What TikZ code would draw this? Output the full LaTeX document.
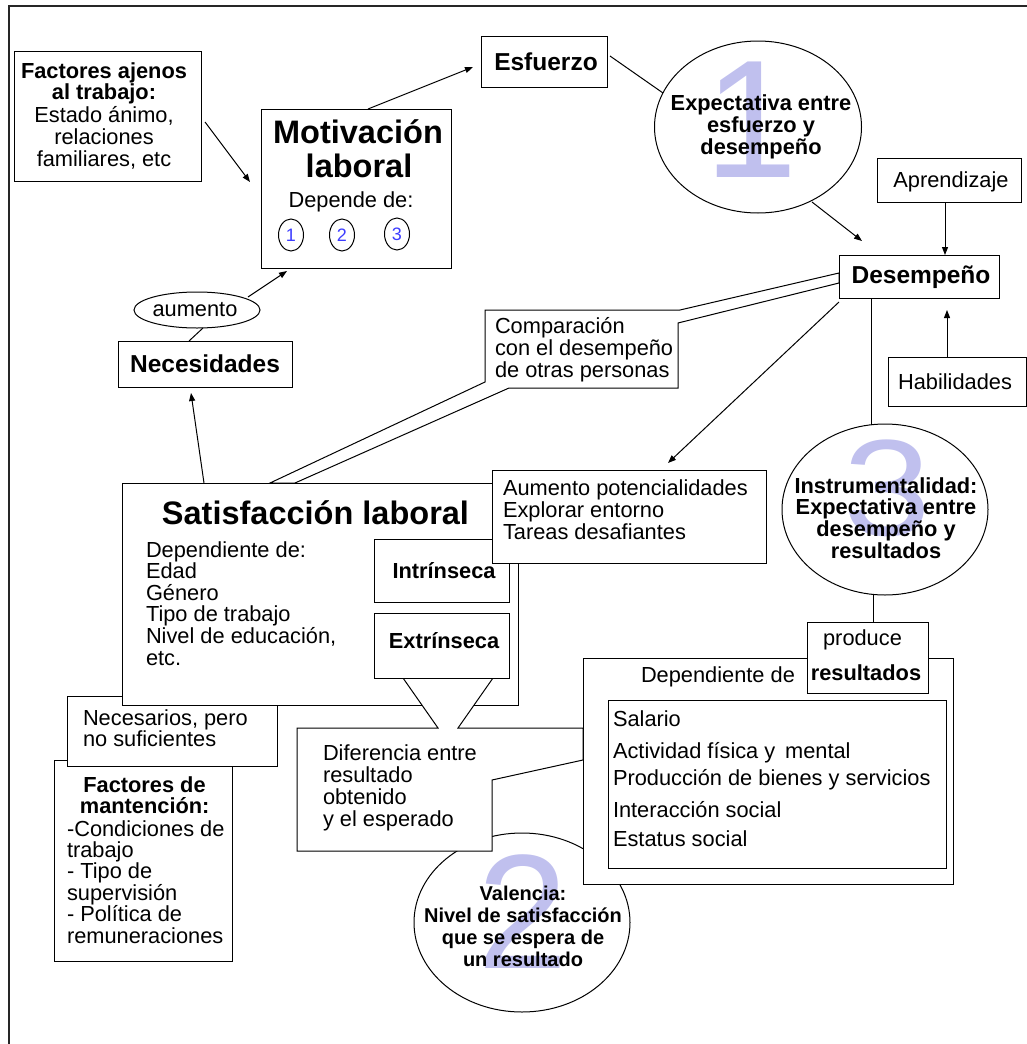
\documentclass[tikz,border=0pt]{standalone}
\usepackage{fontspec}
\setmainfont{Liberation Sans}
\usetikzlibrary{arrows.meta,shapes.geometric,calc}
\definecolor{lav}{RGB}{192,192,238}
\definecolor{dblue}{RGB}{60,60,255}
\newcommand{\fnorm}{\fontsize{21.8}{24}\selectfont}
\newcommand{\fbold}{\fontsize{21.8}{24}\selectfont\bfseries}
\newcommand{\fcond}{\fontsize{20}{22}\selectfont\bfseries}
\newcommand{\flab}{\fontsize{24.5}{26}\selectfont\bfseries}
\newcommand{\ftitle}{\fontsize{32.5}{34}\selectfont\bfseries}
\newcommand{\tlines}[6]{%
  \foreach \myl [count=\myk from 0] in {#6} {%
    \node[#2] (#1\myk) at (#3,{#4+#5*\myk}) {\myl};
  }%
}
\begin{document}
\begin{tikzpicture}[x=1pt,y=-1pt,
  box/.style={draw,line width=1pt,fill=white,inner sep=0pt,outer sep=0pt},
  oval/.style={draw,ellipse,line width=1pt,inner sep=0pt,outer sep=0pt},
  txt/.style={inner sep=0pt,outer sep=0pt,anchor=base,font=\fnorm},
  txtl/.style={txt,anchor=base west},
  btxt/.style={txt,font=\fbold},
  conn/.style={line width=1pt},
  arr/.style={conn,-{Triangle[length=8pt,width=6pt]}},
  bigdig/.style={inner sep=0pt,outer sep=0pt,text=lav,anchor=center}]
\useasboundingbox (0,0) rectangle (1027,1044);
\draw[line width=1.5pt,black!85] (9,1044) -- (9,6) -- (1027,6);

% Factores ajenos al trabajo
\node[box,minimum width=187pt,minimum height=130pt] (fa) at (107.5,116) {};
\tlines{fab}{btxt}{104}{78}{21}{Factores ajenos,al trabajo:}
\tlines{fat}{txt}{104}{122.5}{22}{{Estado ánimo,},relaciones,{familiares, etc}}

% Motivacion laboral
\node[box,minimum width=190pt,minimum height=159pt] (mot) at (356,188.5) {};
\node[txt,font=\ftitle] (mot1) at (358,143) {Motivación};
\node[txt,font=\ftitle] (mot2) at (359,177) {laboral};
\node[txt] (mot3) at (351,207) {Depende de:};
\node[oval,minimum width=25pt,minimum height=32pt,text=dblue,font=\fontsize{18}{18}\selectfont] (c1) at (291,235) {1};
\node[oval,minimum width=25pt,minimum height=32pt,text=dblue,font=\fontsize{18}{18}\selectfont] (c2) at (342,235) {2};
\node[oval,minimum width=25pt,minimum height=32pt,text=dblue,font=\fontsize{18}{18}\selectfont] (c3) at (397,234) {3};

% Esfuerzo
\node[box,minimum width=126pt,minimum height=51pt] (esf) at (544,61.5) {};
\node[txt,font=\flab] (esft) at (546,70.5) {Esfuerzo};

% Ellipse 1
\node[oval,minimum width=207pt,minimum height=172pt] (e1) at (758,127) {};
\node[bigdig,font=\fontsize{168}{168}\selectfont] (d1) at (751.5,120) {1};
\tlines{e1t}{btxt}{761}{110}{22}{Expectativa entre,esfuerzo y,desempeño}

% Aprendizaje, Desempeno, Habilidades
\node[box,minimum width=144pt,minimum height=44pt] (apr) at (949,180) {};
\node[txt] (aprt) at (951,187) {Aprendizaje};
\node[box,minimum width=160pt,minimum height=43pt] (des) at (919,276.5) {};
\node[txt,font=\flab] (dest) at (921,283.5) {Desempeño};
\node[box,minimum width=138pt,minimum height=49pt] (hab) at (957,381.5) {};
\node[txt] (habt) at (955,389) {Habilidades};

% Ellipse 3
\node[oval,minimum width=206pt,minimum height=171pt] (e3) at (885,509.5) {};
\node[bigdig,font=\fontsize{137}{137}\selectfont] (d3) at (887.5,488) {\scalebox{1.15}[1]{3}};
\tlines{e3t}{btxt}{886}{493}{21.7}{Instrumentalidad:,Expectativa entre,desempeño y,resultados}

% Necesidades, aumento
\node[box,minimum width=174pt,minimum height=46pt] (nec) at (205,364) {};
\node[txt,font=\flab] (nect) at (205,372) {Necesidades};
\node[oval,minimum width=126pt,minimum height=36pt] (aue) at (197,310) {};
\node[txt] (auet) at (195,316) {aumento};

% Factores de mantencion
\node[box,minimum width=178pt,minimum height=201pt] (fm) at (143,860.5) {};
\node[btxt] (fm1) at (144.5,792) {Factores de};
\node[btxt] (fm2) at (144.7,813) {mantención:};
\tlines{fml}{txtl}{67}{836}{21.4}{-Condiciones de,trabajo,- Tipo de,supervisión,- Política de,remuneraciones}

% Necesarios pero no suficientes
\node[box,minimum width=210pt,minimum height=70pt] (nsuf) at (172,731) {};
\tlines{nsuft}{txtl}{83}{725}{21}{{Necesarios, pero},no suficientes}

% Satisfaccion laboral
\node[box,minimum width=396pt,minimum height=222pt] (sat) at (320,594) {};
\node[txt,font=\ftitle] (satt) at (315.5,524) {Satisfacción laboral};
\tlines{satl}{txtl}{146}{557}{21.6}{Dependiente de:,Edad,Género,Tipo de trabajo,{Nivel de educación,},etc.}
\node[box,minimum width=135pt,minimum height=63pt] (intr) at (441.5,570.5) {};
\node[btxt] (intrt) at (444,578) {Intrínseca};

% Ellipse 2
\node[oval,minimum width=216pt,minimum height=179pt] (e2) at (522,922.5) {};
\node[bigdig,font=\fontsize{163}{163}\selectfont] (d2) at (523,911.5) {2};
\tlines{e2t}{txt,font=\fcond}{523}{900}{22}{Valencia:,Nivel de satisfacción,que se espera de,un resultado}

% Diferencia callout
\draw[conn,fill=white] (297,728) -- (438,728) -- (403,678) -- (493,678) -- (458,728) -- (583,728) -- (583,760) -- (492,780) -- (492,851) -- (297,851) -- cycle;
\tlines{dift}{txtl}{323}{760}{22}{Diferencia entre,resultado,obtenido,y el esperado}
\node[box,minimum width=135pt,minimum height=65pt] (extr) at (441.5,645.5) {};
\node[btxt] (extrt) at (444,648) {Extrínseca};

% Dependiente de / resultados
\node[box,minimum width=370pt,minimum height=226pt] (depo) at (768,771) {};
\node[txtl] (depot) at (641,682) {Dependiente de};
\node[box,minimum width=338pt,minimum height=168pt] (depi) at (777,784) {};
\node[txtl] (di1) at (613,726) {Salario};
\node[txtl] (di2) at (613,758) {Actividad física y\hspace{0.45em}mental};
\node[txtl] (di3) at (613,785) {Producción de bienes y servicios};
\node[txtl] (di4) at (613,817) {Interacción social};
\node[txtl] (di5) at (613,846) {Estatus social};
\node[box,minimum width=121pt,minimum height=71pt] (prod) at (867.5,657.5) {};
\node[txt] (prodt1) at (862.5,645) {produce};
\node[btxt] (prodt2) at (866,680) {resultados};

% Aumento potencialidades
\node[box,minimum width=274pt,minimum height=93pt] (aum) at (629,516.5) {};
\tlines{aumt}{txtl}{503}{495}{22}{Aumento potencialidades,Explorar entorno,Tareas desafiantes}

% Comparacion callout
\draw[conn] (485,310) -- (680,310) -- ($(des.west)+(0,-3.5)$) -- ($(des.west)+(0,6.5)$) -- (678,323) -- (678,388) -- (509,388) -- ($(sat.north)+(-25,0)$) -- ($(sat.north)+(-50,0)$) -- (485,382) -- cycle;
\tlines{compt}{txtl}{495}{333}{22}{Comparación,con el desempeño,de otras personas}

% Connectors
\draw[arr] ($(fa.east)+(4,6)$) -- ($(mot.west)+(-11,-6.5)$);
\draw[arr] ($(mot.north)+(12,0)$) -- ($(esf.west)+(-8,5.5)$);
\draw[conn] ($(esf.east)+(3,-5.5)$) -- ($(e1.center)+(-95,-34)$);
\draw[arr] ($(e1.center)+(54,75)$) -- ($(des.north west)+(23,-14)$);
\draw[arr] ($(apr.south)+(-4,0)$) -- ($(des.north)+(26,0)$);
\draw[arr] ($(hab.north)+(-10,0)$) -- ($(des.south)+(28,12)$);
\draw[conn] ($(des.south)+(-48,0)$) -- ($(e3.north)+(-14,1)$);
\draw[conn] ($(e3.south)+(-12,0)$) -- ($(prod.north)+(5.5,0)$);
\draw[arr] ($(des.south west)+(0,4)$) -- ($(aum.north)+(39,-7)$);
\draw[arr] ($(aue.center)+(51,-13)$) -- ($(mot.south)+(-69,3)$);
\draw[conn] ($(nec.north)+(-16,0)$) -- ($(aue.south)+(6,0)$);
\draw[arr] ($(sat.north)+(-116,0)$) -- ($(nec.south)+(-14,6)$);
\end{tikzpicture}
\end{document}
